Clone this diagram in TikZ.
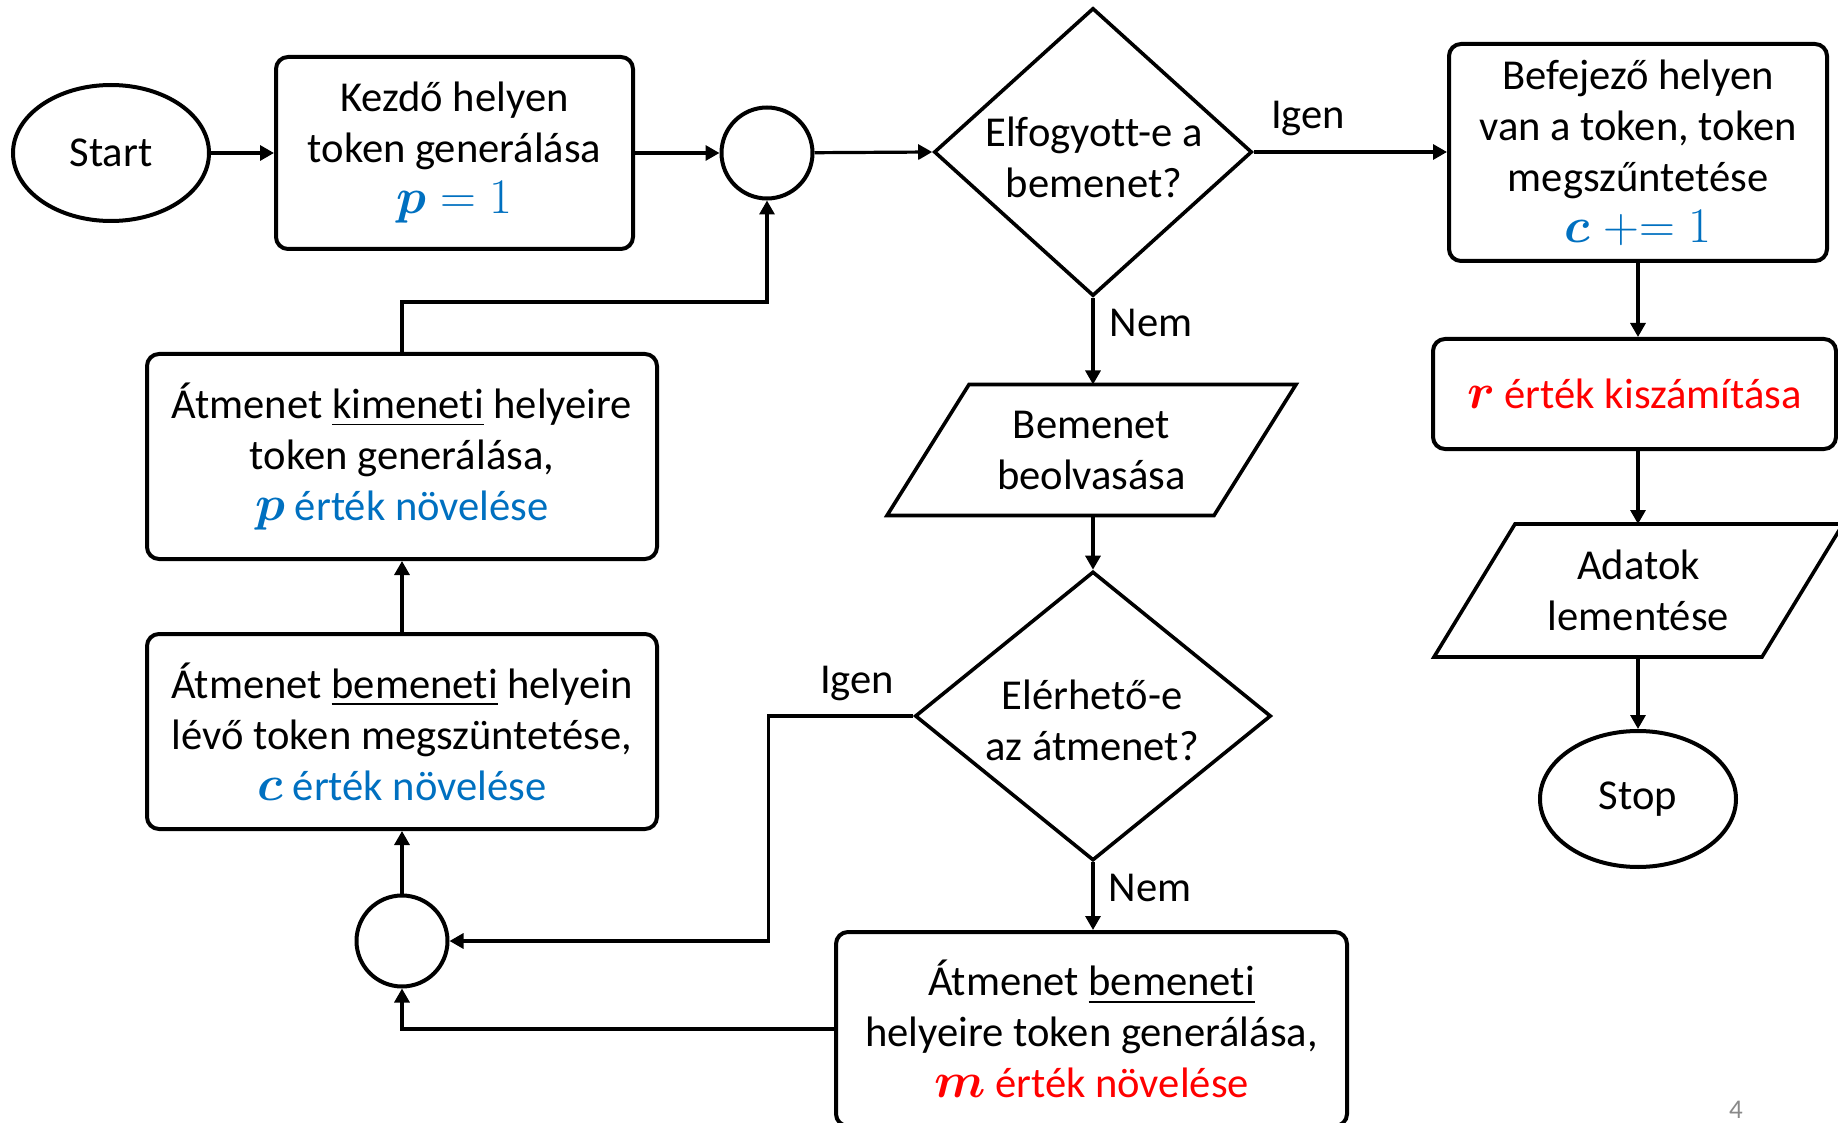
\documentclass[tikz,border=0pt]{standalone}
\usepackage{fontspec}
\setmainfont{Carlito}[Ligatures=NoCommon]
\usepackage{amsmath}
\usetikzlibrary{shapes.geometric,arrows.meta,calc}
\definecolor{accblue}{RGB}{0,112,192}
\definecolor{accred}{RGB}{255,0,0}
\definecolor{pagegray}{RGB}{137,137,137}

% slightly larger size for the formula symbols
\newcommand{\mathsz}[1]{{\fontsize{24}{25.5}\selectfont$#1$}}

\tikzset{
  base/.style={font=\fontsize{21.3}{25.5}\selectfont, align=center, inner sep=0pt},
  procbox/.style={base, draw, line width=2pt, rounded corners=6pt},
  terminal/.style={base, draw, ellipse, line width=2pt, minimum width=98pt, minimum height=68pt},
  junction/.style={draw, ellipse, line width=2pt, minimum width=45.5pt, minimum height=45.5pt, inner sep=0pt},
  decision/.style={draw, diamond, line width=1.8pt, inner sep=0pt},
  iobox/.style={base, outer sep=0pt},
  ioline/.style={line width=1.8pt, line join=miter},
  flow/.style={line width=1.6pt, -{Triangle[length=7pt,width=7.5pt]}},
}

\begin{document}
\begin{tikzpicture}[x=0.5pt, y=-0.5pt]
\useasboundingbox (0,0) rectangle (1838,1123);

% main line
\node[terminal] (start) at (111,153) {Start};
\node[procbox, minimum width=178.5pt, minimum height=96pt] (kezdo) at (454.5,153)
  {Kezdő helyen\\token generálása\\{\color{accblue}\mathsz{\boldsymbol{p} = 1}}};
\node[junction] (j1) at (767,153) {};
\node[decision, minimum width=159pt, minimum height=144pt] (d1) at (1093,152) {};
\node[base] (d1text) at (1094,157) {Elfogyott-e a\\bemenet?};
\node[procbox, minimum width=189pt, minimum height=108.5pt] (befej) at (1638,152.5)
  {Befejező helyen\\van a token, token\\megszűntetése\\{\color{accblue}\mathsz{\boldsymbol{c} \mathrel{+{=}} 1}}};

% right column
\node[procbox, minimum width=201.5pt, minimum height=55pt] (rbox) at (1634.5,394)
  {{\color{accred}\mathsz{\boldsymbol{r}} érték kiszámítása}};
\node[iobox, minimum width=164pt, minimum height=66.5pt] (adatok) at (1638.5,590.5)
  {Adatok\\lementése};
\draw[ioline] ($(adatok.north west)+(40.5,0)$) -- ($(adatok.north east)+(40.5,0)$)
  -- ($(adatok.south east)+(-40.5,0)$) -- ($(adatok.south west)+(-40.5,0)$) -- cycle;
\node[terminal] (stop) at (1638,799) {Stop};

% middle column
\node[iobox, minimum width=163.5pt, minimum height=65.5pt] (bemenet) at (1091.5,450)
  {Bemenet\\beolvasása};
\draw[ioline] ($(bemenet.north west)+(41,0)$) -- ($(bemenet.north east)+(41,0)$)
  -- ($(bemenet.south east)+(-41,0)$) -- ($(bemenet.south west)+(-41,0)$) -- cycle;
\node[decision, minimum width=178pt, minimum height=144.5pt] (d2) at (1093,716) {};
\node[base] (d2text) at (1092,720) {Elérhető-e\\az átmenet?};
\node[procbox, minimum width=255.5pt, minimum height=97pt] (genin) at (1091.5,1029)
  {Átmenet \underline{bemeneti}\\helyeire token generálása,\\{\color{accred}\mathsz{\boldsymbol{m}} érték növelése}};

% left column
\node[procbox, minimum width=255pt, minimum height=102.5pt] (genout) at (402,456.5)
  {Átmenet \underline{kimeneti} helyeire\\token generálása,\\{\color{accblue}\mathsz{\boldsymbol{p}} érték növelése}};
\node[procbox, minimum width=255pt, minimum height=97.5pt] (delin) at (402,731.5)
  {Átmenet \underline{bemeneti} helyein\\lévő token megszüntetése,\\{\color{accblue}\mathsz{\boldsymbol{c}} érték növelése}};
\node[junction] (j2) at (402,941) {};

% branch labels
\node[base] (igen1) at (1308,118) {Igen};
\node[base] (nem1) at (1151,323) {Nem};
\node[base] (igen2) at (857,683) {Igen};
\node[base] (nem2) at (1150,888) {Nem};

% page number
\node[font=\fontsize{13.5}{15}\selectfont, text=pagegray, inner sep=0pt] (pagenum) at (1736,1110) {4};

% connectors
\draw[flow] (start) -- (kezdo);
\draw[flow] (kezdo) -- (j1);
\draw[flow] (j1) -- (d1.west);
\draw[flow] (d1.east) -- (befej.west |- d1.east);
\draw[flow] (befej.south) -- (rbox.north -| befej.south);
\draw[flow] (rbox.south -| befej.south) -- (adatok.north -| befej.south);
\draw[flow] (adatok.south -| befej.south) -- (stop.north);
\draw[flow] (d1.south) -- (d1.south |- bemenet.north);
\draw[flow] (bemenet.south -| d2.north) -- (d2.north);
\draw[flow] (d2.south) -- (d2.south |- genin.north);
\draw[flow] (d2.west) -- ++(-145,0) |- (j2.east);
\draw[flow] (genin.west) -| (j2.south);
\draw[flow] (j2.north) -- (delin.south);
\draw[flow] (delin.north) -- (genout.south);
\draw[flow] (genout.north) -- ++(0,-50) -| (j1.south);
\end{tikzpicture}
\end{document}
